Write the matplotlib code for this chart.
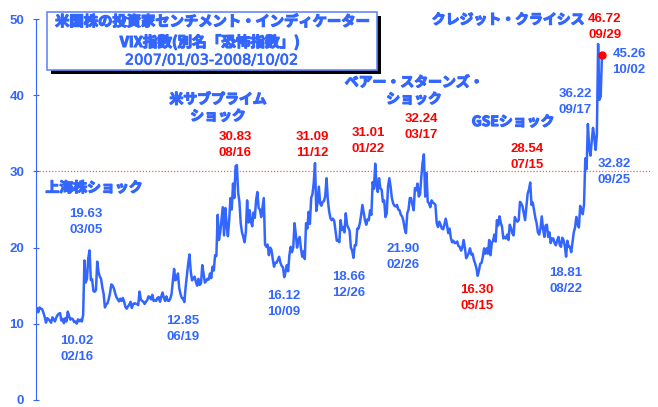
import numpy as np
import pandas as pd
import matplotlib
matplotlib.use('Agg')
import matplotlib.pyplot as plt
import matplotlib.patheffects as pe
from matplotlib.patches import Rectangle

# daily VIX closes, one list per month
jan07 = [12.04, 11.51, 12.14, 12.00, 11.91, 11.47, 10.87, 10.15, 10.74, 10.59, 10.40, 10.14, 10.85, 10.58, 10.31, 10.81, 11.13, 11.33, 11.40, 10.42]
feb07 = [10.65, 10.08, 10.72, 10.31, 11.60, 11.02, 10.55, 10.70, 10.60, 10.22, 10.30, 10.02, 10.58, 10.34, 10.54, 10.30, 11.15, 18.31, 15.42]
mar07 = [15.90, 18.60, 19.63, 15.74, 15.86, 14.31, 14.20, 14.44, 18.16, 16.79, 16.20, 15.90, 14.74, 13.93, 12.15, 12.55, 12.68, 13.27, 14.06, 15.17, 15.02, 14.64]
apr07 = [14.00, 13.50, 13.21, 12.94, 13.30, 13.00, 13.40, 12.90, 12.22, 11.98, 12.30, 12.50, 12.89, 12.07, 12.57, 12.70, 12.63, 12.60, 12.45, 14.22]
may07 = [13.20, 13.00, 12.90, 12.60, 12.90, 13.10, 13.60, 13.50, 13.20, 13.80, 13.00, 13.10, 13.00, 13.40, 13.50, 12.90, 13.60, 14.10, 13.40, 13.00, 13.60, 13.05]
jun07 = [13.00, 13.30, 13.90, 15.50, 17.20, 15.70, 15.90, 16.60, 14.70, 13.90, 13.40, 13.30, 12.85, 14.80, 16.30, 17.90, 19.10, 16.90, 15.70, 15.90, 16.20]
jul07 = [15.50, 15.00, 15.90, 15.10, 15.30, 17.70, 16.60, 15.40, 15.60, 15.90, 15.80, 16.60, 16.00, 17.50, 17.00, 19.00, 18.90, 24.30, 21.00, 22.00, 23.60]
aug07 = [25.30, 21.60, 25.20, 23.00, 21.50, 23.60, 26.50, 25.00, 28.40, 26.50, 30.70, 30.83, 27.20, 26.00, 23.20, 22.00, 21.40, 20.70, 22.00, 26.20, 23.30, 24.90, 23.40]
sep07 = [22.80, 24.60, 23.90, 26.20, 27.30, 25.20, 25.00, 24.00, 25.20, 26.50, 20.40, 20.10, 20.40, 19.00, 20.00, 19.70, 18.50, 17.50, 18.00]
oct07 = [18.00, 18.40, 18.80, 18.00, 17.60, 17.40, 16.12, 16.80, 17.70, 16.90, 19.00, 20.10, 19.40, 20.00, 23.20, 21.80, 20.00, 21.00, 21.40, 19.90, 18.80, 19.50, 18.50]
nov07 = [23.20, 22.50, 24.70, 23.10, 26.50, 27.00, 28.50, 31.09, 24.80, 25.90, 28.00, 25.80, 25.50, 26.00, 26.10, 26.80, 29.10, 26.30, 24.80, 23.90, 23.60]
dec07 = [23.80, 23.50, 22.20, 20.90, 21.00, 20.70, 23.60, 22.30, 22.70, 22.00, 24.50, 23.00, 22.60, 22.20, 20.00, 19.60, 18.66, 20.30, 20.30, 22.50]
jan08 = [22.50, 23.20, 24.30, 25.60, 24.60, 23.60, 23.00, 23.70, 23.60, 24.90, 24.30, 28.60, 27.70, 31.01, 28.20, 27.30, 29.10, 27.80, 27.60, 26.00, 26.20]
feb08 = [24.00, 24.50, 28.00, 29.10, 28.00, 26.50, 25.80, 25.50, 25.40, 25.60, 25.00, 24.90, 24.30, 24.10, 23.50, 22.50, 21.90, 24.50, 25.00, 26.50]
mar08 = [26.50, 25.60, 24.90, 27.80, 27.50, 28.40, 26.70, 27.00, 29.30, 31.20, 32.24, 26.70, 29.80, 26.00, 25.80, 25.30, 26.20, 25.90, 25.80, 25.60]
apr08 = [23.20, 22.70, 23.40, 23.00, 22.50, 22.40, 23.00, 23.80, 23.00, 21.90, 22.50, 21.30, 20.70, 20.90, 20.60, 20.60, 20.80, 20.20, 20.10, 19.60, 20.00, 21.00]
may08 = [20.00, 18.60, 18.90, 19.30, 19.90, 19.10, 19.20, 18.40, 17.90, 17.30, 16.30, 17.00, 17.90, 18.00, 18.80, 19.90, 19.20, 19.90, 19.20, 21.00, 19.00]
jun08 = [20.60, 20.90, 21.70, 20.80, 23.60, 22.90, 24.10, 23.30, 22.70, 21.20, 21.40, 21.20, 21.70, 21.00, 23.00, 22.60, 21.90, 21.60, 24.00, 23.60, 23.40]
jul08 = [23.60, 26.00, 25.80, 25.40, 24.50, 23.60, 25.30, 27.10, 27.60, 28.54, 25.60, 25.90, 24.90, 23.90, 23.20, 22.00, 21.70, 22.50, 24.10, 22.50, 21.40, 22.90]
aug08 = [23.00, 21.40, 22.00, 20.60, 21.20, 21.20, 20.60, 20.30, 20.90, 21.40, 20.40, 20.10, 21.30, 21.00, 20.20, 18.81, 20.90, 20.10, 20.10, 19.40, 20.70]
sep08 = [21.99, 22.64, 24.03, 23.06, 22.64, 25.47, 24.99, 24.39, 25.66, 31.70, 30.30, 36.22, 33.10, 32.07, 33.83, 35.72, 34.54, 32.82, 34.74, 46.72, 39.39]
oct08 = [39.81, 45.26]

holidays = ['2007-01-15', '2007-02-19', '2007-04-06', '2007-05-28', '2007-07-04',
            '2007-09-03', '2007-11-22', '2007-12-25', '2008-01-01', '2008-01-21',
            '2008-02-18', '2008-03-21', '2008-05-26', '2008-07-04', '2008-09-01']

# highs (red) and lows (blue) that get a value/date label
marked_dates = ['2007-02-16', '2007-03-05', '2007-06-19', '2007-08-16', '2007-10-09',
                '2007-11-12', '2007-12-26', '2008-01-22', '2008-02-26', '2008-03-17',
                '2008-05-15', '2008-07-15', '2008-08-22', '2008-09-17', '2008-09-25',
                '2008-09-29', '2008-10-02']
marked_red = [False, False, False, True, False, True, False, True, False, True,
              True, True, False, False, False, True, False]

events = ['上海株ショック', '米サブプライム\nショック', 'ベアー・スターンズ・\nショック',
          'GSEショック', 'クレジット・クライシス']

title_lines = ['米国株の投資家センチメント・インディケーター',
               'VIX指数(別名「恐怖指数」)',
               '2007/01/03-2008/10/02']

BLUE = '#3366ff'
RED = '#ff0000'
JP = ['Noto Sans CJK JP', 'DejaVu Sans']
NUM = ['Liberation Sans', 'DejaVu Sans']
W, H = 658, 407

# label layout in pixels (centre x, centre y of the two lines)
mark_pos = [(77, 349), (86, 222), (183, 329), (235, 145), (284, 304),
            (312, 145), (349, 285), (368, 141), (403, 257), (421, 127),
            (477, 298), (527, 157), (566, 281), (575, 102), (614, 172),
            (605, 27), (629, 62)]
event_pos = [(94, 188), (218, 108), (414, 91), (513, 122), (508, 20)]

# fake a heavier gothic by stroking the glyph outline
heavy = [pe.withStroke(linewidth=0.9, foreground=BLUE)]
semi = [pe.withStroke(linewidth=0.5, foreground=BLUE)]


def px(x, y):
    return x / W, 1 - y / H


def main():
    vix = np.array(jan07 + feb07 + mar07 + apr07 + may07 + jun07 + jul07 + aug07
                   + sep07 + oct07 + nov07 + dec07 + jan08 + feb08 + mar08 + apr08
                   + may08 + jun08 + jul08 + aug08 + sep08 + oct08)
    dates = pd.bdate_range('2007-01-03', '2008-10-02')
    dates = dates[~dates.isin(pd.to_datetime(holidays))]
    assert len(dates) == len(vix), (len(dates), len(vix))
    x = np.arange(len(vix))

    fig = plt.figure(figsize=(W / 100, H / 100), dpi=100)
    ax = fig.add_axes([36 / W, 1 - 400 / H, (650 - 36) / W, (400 - 19) / H])

    ax.plot(x, vix, color=BLUE, lw=1.8, solid_joinstyle='round')
    ax.plot(x[-1], vix[-1], 'o', color=RED, ms=5, zorder=5)
    ax.axhline(30, color='#ff5555', ls=(0, (1, 1.5)), lw=0.9, zorder=0)

    ax.set_xlim(-0.8, 478.5)
    ax.set_ylim(0, 50)
    ax.set_yticks([0, 10, 20, 30, 40, 50])
    ax.set_xticks([])
    for s in ['top', 'right', 'bottom']:
        ax.spines[s].set_visible(False)
    ax.spines['left'].set_color(BLUE)
    ax.tick_params(axis='y', direction='inout', length=5, color=BLUE,
                   labelcolor=BLUE, pad=6)
    for lab in ax.get_yticklabels():
        lab.set_fontfamily(NUM)
        lab.set_fontweight('bold')
        lab.set_fontsize(9.5)

    # value / date labels
    for d, red, (lx, ly) in zip(marked_dates, marked_red, mark_pos):
        i = dates.get_loc(pd.Timestamp(d))
        col = RED if red else BLUE
        fig.text(*px(lx, ly - 8), f'{vix[i]:.2f}', color=col, family=NUM,
                 weight='bold', fontsize=9.5, ha='center', va='center')
        fig.text(*px(lx, ly + 8), pd.Timestamp(d).strftime('%m/%d'), color=col,
                 family=NUM, weight='bold', fontsize=9.5, ha='center', va='center')

    for t, (ex, ey) in zip(events, event_pos):
        fig.text(*px(ex, ey), t, color=BLUE, family=JP, weight='bold',
                 fontsize=10, ha='center', va='center', linespacing=1.25,
                 path_effects=heavy)

    # title box with drop shadow
    bx0, by0, bx1, by1 = 47, 12, 377, 70
    fig.add_artist(Rectangle(px(bx0 + 4, by1 + 4), (bx1 - bx0) / W, (by1 - by0) / H,
                             transform=fig.transFigure, facecolor='black',
                             edgecolor='none'))
    fig.add_artist(Rectangle(px(bx0, by1), (bx1 - bx0) / W, (by1 - by0) / H,
                             transform=fig.transFigure, facecolor='white',
                             edgecolor='#6688ff', lw=1.2))
    fig.text(*px(212, 22), title_lines[0], color=BLUE, family=JP, weight='bold',
             fontsize=10.3, ha='center', va='center', path_effects=heavy)
    fig.text(*px(210, 42), title_lines[1], color=BLUE, family=JP, weight='bold',
             fontsize=10.5, ha='center', va='center', path_effects=heavy)
    fig.text(*px(212, 60), title_lines[2], color=BLUE, family=['DejaVu Sans'],
             fontsize=10.5, ha='center', va='center', path_effects=semi)

    fig.savefig('out.png', dpi=100)


if __name__ == '__main__':
    main()
